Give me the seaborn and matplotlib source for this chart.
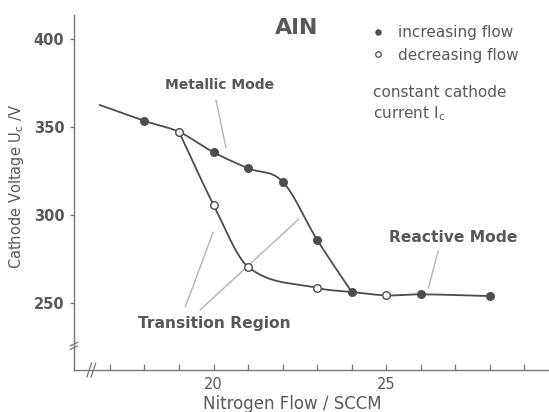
import numpy as np
import matplotlib
matplotlib.use("Agg")
import matplotlib.pyplot as plt
from matplotlib.lines import Line2D
import seaborn as sns

# Cathode voltage hysteresis of reactive AlN sputtering
flow_increasing = [18, 20, 21, 22, 23, 24, 26, 28]
voltage_increasing = [353.4, 335.6, 326.5, 318.9, 285.8, 256.2, 254.9, 253.9]
flow_decreasing = [19, 20, 21, 23, 25]
voltage_decreasing = [347.2, 305.7, 270.5, 258.5, 254.3]

# where the fitted metallic-mode curve begins, and where both branches rejoin
curve_start_flow = 16.7
curve_start_voltage = 362.5
join_flow = 24

x_major_ticks = [20, 25]
x_minor_ticks = [17, 18, 19, 21, 22, 23, 24, 26, 27, 28, 29]
y_ticks = [250, 300, 350, 400]

INK = "#4d4d4d"
TEXT = "#585858"
LEADER = "#b4b4b4"

sns.set_theme(style="white")
plt.rcParams["font.family"] = ["DejaVu Sans"]


def smooth_curve(x, y, num=300):
    """Hermite curve with central-difference tangents, limited so that
    monotone stretches stay monotone (Fritsch-Carlson)."""
    x = np.asarray(x, float)
    y = np.asarray(y, float)
    n = len(x)
    h = np.diff(x)
    d = np.diff(y) / h
    m = np.empty(n)
    m[0], m[-1] = d[0], d[-1]
    for k in range(1, n - 1):
        m[k] = (y[k + 1] - y[k - 1]) / (x[k + 1] - x[k - 1])
    for k in range(n - 1):
        if d[k] == 0 or np.sign(m[k]) != np.sign(d[k]) or np.sign(m[k + 1]) != np.sign(d[k]):
            continue
        a, b = m[k] / d[k], m[k + 1] / d[k]
        s = a * a + b * b
        if s > 9:
            t = 3 / np.sqrt(s)
            m[k], m[k + 1] = t * a * d[k], t * b * d[k]
    xs = np.linspace(x[0], x[-1], num)
    i = np.clip(np.searchsorted(x, xs) - 1, 0, n - 2)
    t = (xs - x[i]) / h[i]
    h00 = 2 * t**3 - 3 * t**2 + 1
    h10 = t**3 - 2 * t**2 + t
    h01 = -2 * t**3 + 3 * t**2
    h11 = t**3 - t**2
    ys = h00 * y[i] + h10 * h[i] * m[i] + h01 * y[i + 1] + h11 * h[i] * m[i + 1]
    return xs, ys


inc = list(zip(flow_increasing, voltage_increasing))
dec = list(zip(flow_decreasing, voltage_decreasing))

# metallic branch (rising flow) down to the reactive plateau
metallic = sorted([(curve_start_flow, curve_start_voltage), dec[0]]
                  + [p for p in inc if p[0] <= join_flow])
# falling-flow branch, leaving the metallic curve and rejoining at join_flow
falling = sorted([p for p in dec if p[0] < join_flow]
                 + [p for p in inc if p[0] == join_flow])
# common reactive plateau
reactive = sorted([p for p in inc + dec if p[0] >= join_flow])

fig = plt.figure(figsize=(5.49, 4.12), dpi=100)
ax = fig.add_axes([74 / 549, 42 / 412, 475 / 549, 355 / 412])

for branch in (metallic, falling, reactive):
    bx, by = zip(*branch)
    xs, ys = smooth_curve(bx, by)
    ax.plot(xs, ys, color=INK, lw=1.3, zorder=3, solid_capstyle="round")

sns.scatterplot(x=flow_increasing, y=voltage_increasing, ax=ax, s=34,
                color=INK, edgecolor=INK, linewidth=0.6, zorder=5)
sns.scatterplot(x=flow_decreasing, y=voltage_decreasing, ax=ax, s=30,
                color="white", edgecolor=INK, linewidth=1.0, zorder=5)

ax.set_xlim(15.96, 29.71)
ax.set_ylim(211.9, 413.6)

# axes styling
for side in ("top", "right"):
    ax.spines[side].set_visible(False)
for side in ("left", "bottom"):
    ax.spines[side].set_color("#777777")
    ax.spines[side].set_linewidth(1.0)
ax.set_xticks(x_major_ticks)
ax.set_xticks(x_minor_ticks, minor=True)
ax.set_yticks(y_ticks)
ax.tick_params(axis="x", which="both", direction="in", length=4, width=0.9,
               color="#777777", labelsize=10.5, labelcolor=TEXT, pad=5,
               bottom=True)
ax.tick_params(axis="y", direction="out", length=3, width=0.9,
               color="#777777", labelsize=10.5, labelcolor=TEXT, pad=4,
               left=True)
for lab in ax.get_yticklabels():
    lab.set_fontweight("bold")

ax.set_xlabel("Nitrogen Flow / SCCM", fontsize=12, color=TEXT)
ax.xaxis.set_label_coords(0.459, -0.071)
ax.set_ylabel(r"Cathode Voltage U$_\mathregular{c}$ /V", fontsize=10.5,
              color=TEXT)
ax.yaxis.set_label_coords(-0.101, 0.518)

# axis break marks
for dx in (0.0, 0.009):
    ax.plot([0.027 + dx, 0.037 + dx], [-0.020, 0.020], transform=ax.transAxes,
            color="#777777", lw=0.9, clip_on=False)
for dy in (0.0, 0.010):
    ax.plot([-0.008, 0.008], [0.058 + dy, 0.068 + dy], transform=ax.transAxes,
            color="#777777", lw=0.9, clip_on=False)

# region labels with leader lines
ax.text(22.39, 406.3, "AlN", fontsize=16, fontweight="bold", color=TEXT,
        ha="center", va="center")
ax.text(20.16, 373.9, "Metallic Mode", fontsize=10, fontweight="bold",
        color=TEXT, ha="center", va="center")
ax.plot([20.07, 20.36], [365.3, 338.1], color=LEADER, lw=1.0, zorder=2)

ax.text(20.01, 238.6, "Transition Region", fontsize=11.2, fontweight="bold",
        color=TEXT, ha="center", va="center")
ax.plot([19.18, 19.99], [247.7, 290.3], color=LEADER, lw=1.0, zorder=2)
ax.plot([19.61, 22.47], [246.0, 297.7], color=LEADER, lw=1.0, zorder=2)

ax.text(26.93, 286.9, "Reactive Mode", fontsize=11.2, fontweight="bold",
        color=TEXT, ha="center", va="center")
ax.plot([26.50, 26.22], [279.5, 258.5], color=LEADER, lw=1.0, zorder=2)

ax.text(24.62, 369.3, "constant cathode", fontsize=11, color=TEXT,
        ha="left", va="center")
ax.text(24.62, 357.4, r"current I$_\mathregular{c}$", fontsize=11,
        color=TEXT, ha="left", va="center")

handles = [
    Line2D([], [], ls="", marker="o", ms=4, mfc=INK, mec=INK, mew=0.6,
           label="increasing flow"),
    Line2D([], [], ls="", marker="o", ms=4, mfc="white", mec=INK, mew=0.9,
           label="decreasing flow"),
]
leg = ax.legend(handles=handles, loc="upper left",
                bbox_to_anchor=(372 / 549, 1 - 25 / 412),
                bbox_transform=fig.transFigure, frameon=False, fontsize=11,
                handlelength=0.8, handletextpad=0.9, labelspacing=0.5,
                borderpad=0, borderaxespad=0)
for t in leg.get_texts():
    t.set_color(TEXT)

fig.savefig("out.png", dpi=100)
